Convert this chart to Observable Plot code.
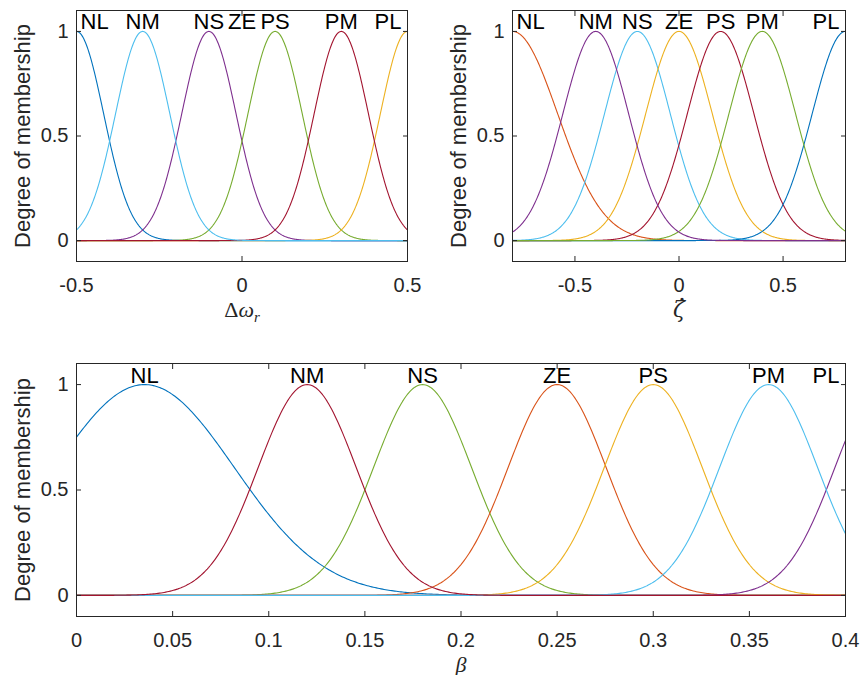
<!DOCTYPE html>
<html>
<head>
<meta charset="utf-8">
<script src="https://cdn.jsdelivr.net/npm/d3@7"></script>
<script src="https://cdn.jsdelivr.net/npm/@observablehq/plot@0.6"></script>
<style>
  body { margin: 0; background: #fff; }
  #fig { position: relative; width: 861px; height: 675px; background: #fff; }
  #fig > svg { position: absolute; overflow: visible; }
</style>
</head>
<body>
<div id="fig"></div>
<script>
// ---------- Data (Gaussian membership functions) ----------
const mfNames = ["NL", "NM", "NS", "ZE", "PS", "PM", "PL"];
const drawOrder = ["NL", "NS", "ZE", "PS", "PL", "PM", "NM"];
const yTicks = [0, 0.5, 1];
const yTickLabels = ["0", "0.5", "1"];

// Panel 1: Δω_r
const dwDomain = [-0.5, 0.5];
const dwCenters = [-0.5, -0.3, -0.1, 0, 0.1, 0.3, 0.5];
const dwSigmas = [0.082, 0.082, 0.082, null, 0.082, 0.082, 0.082]; // ZE has no visible curve
const dwColors = ["#0072BD", "#4DBEEE", "#7E2F8E", "#D95319", "#77AC30", "#A2142F", "#EDB120"];
const dwTicks = [-0.5, 0, 0.5];
const dwTickLabels = ["-0.5", "0", "0.5"];

// Panel 2: ζ-dot
const zdDomain = [-0.8, 0.8];
const zdCenters = [-0.8, -0.4, -0.2, 0, 0.2, 0.4, 0.8];
const zdSigmas = [0.217, 0.158, 0.158, 0.16, 0.16, 0.16, 0.16];
const zdColors = ["#D95319", "#7E2F8E", "#4DBEEE", "#EDB120", "#A2142F", "#77AC30", "#0072BD"];
const zdTicks = [-0.5, 0, 0.5];
const zdTickLabels = ["-0.5", "0", "0.5"];

// Panel 3: β
const bDomain = [0, 0.4];
const bCenters = [0.0354, 0.12, 0.18, 0.25, 0.30, 0.36, 0.42];
const bSigmas = [0.0467, 0.0255, 0.0255, 0.0255, 0.0255, 0.0255, 0.0255];
const bColors = ["#0072BD", "#A2142F", "#77AC30", "#D95319", "#EDB120", "#4DBEEE", "#7E2F8E"];
const bTicks = [0, 0.05, 0.1, 0.15, 0.2, 0.25, 0.3, 0.35, 0.4];
const bTickLabels = ["0", "0.05", "0.1", "0.15", "0.2", "0.25", "0.3", "0.35", "0.4"];

// ---------- Drawing ----------
const AX = "#262626";
const SANS = "'Liberation Sans', Arial, Helvetica, sans-serif";
const SERIF = "'Liberation Serif', 'DejaVu Serif', serif";

function panel({centers, sigmas, colors, domain, xTicks, xTickLabels, xLabel, labelFont, width, height, mt, mr, mb, ml}) {
  const curves = [];
  const N = 500;
  drawOrder.forEach(n => {
    const i = mfNames.indexOf(n);
    if (sigmas[i] == null) return;
    for (let k = 0; k <= N; k++) {
      const x = domain[0] + (domain[1] - domain[0]) * k / N;
      curves.push({name: n, x, y: Math.exp(-((x - centers[i]) ** 2) / (2 * sigmas[i] ** 2))});
    }
  });
  const labels = mfNames.map((n, i) => {
    const cx = Math.max(domain[0], Math.min(domain[1], centers[i]));
    return {name: n, x: cx, anchor: cx <= domain[0] ? "start" : cx >= domain[1] ? "end" : "middle"};
  });
  const fmt = (ticks, labs) => d => labs[ticks.findIndex(t => Math.abs(t - d) < 1e-9)];
  return Plot.plot({
    width, height,
    marginTop: mt, marginRight: mr, marginBottom: mb, marginLeft: ml,
    style: {fontFamily: SANS, fontSize: "20px", color: AX, background: "transparent"},
    x: {domain, type: "linear"},
    y: {domain: [-0.1, 1.1]},
    color: {domain: mfNames, range: colors},
    marks: [
      Plot.line(curves, {x: "x", y: "y", z: "name", stroke: "name", strokeWidth: 1.1}),
      Plot.frame({stroke: AX, strokeWidth: 1}),
      Plot.axisX({anchor: "bottom", ticks: xTicks, tickSize: 0, tickPadding: 16, tickFormat: fmt(xTicks, xTickLabels), fill: AX, fontSize: 20, label: null}),
      Plot.axisX({anchor: "bottom", ticks: xTicks, tickSize: -5, fill: "none", stroke: AX, label: null}),
      Plot.axisX({anchor: "top", ticks: xTicks, tickSize: -5, fill: "none", stroke: AX, label: null}),
      Plot.axisY({anchor: "left", ticks: yTicks, tickSize: 0, tickPadding: 8, tickFormat: fmt(yTicks, yTickLabels), fill: AX, fontSize: 20, label: null}),
      Plot.axisY({anchor: "left", ticks: yTicks, tickSize: -5, fill: "none", stroke: AX, label: null}),
      Plot.axisY({anchor: "right", ticks: yTicks, tickSize: -5, fill: "none", stroke: AX, label: null}),
      Plot.text(labels.filter(d => d.anchor === "start"), {x: "x", y: 1, text: "name", textAnchor: "start", lineAnchor: "bottom", dx: 4, dy: -2, fontSize: 22, fill: "black"}),
      Plot.text(labels.filter(d => d.anchor === "middle"), {x: "x", y: 1, text: "name", textAnchor: "middle", lineAnchor: "bottom", dy: -2, fontSize: 22, fill: "black"}),
      Plot.text(labels.filter(d => d.anchor === "end"), {x: "x", y: 1, text: "name", textAnchor: "end", lineAnchor: "bottom", dx: -6, dy: -2, fontSize: 22, fill: "black"}),
      Plot.text(["Degree of membership"], {frameAnchor: "left", rotate: -90, dx: -47, lineAnchor: "bottom", textAnchor: "middle", fontSize: 22, fill: AX}),
      Plot.text([xLabel], {frameAnchor: "bottom", dy: 55, lineAnchor: "bottom", textAnchor: "middle", fontSize: 22, fill: AX, fontFamily: labelFont || SERIF})
    ]
  });
}

function fixLabel(svg, key, html) {
  svg.querySelectorAll("text").forEach(t => {
    if (t.textContent === key) t.innerHTML = typeof html === "function" ? html(t) : html;
  });
}

const fig = document.getElementById("fig");

const p1 = panel({centers: dwCenters, sigmas: dwSigmas, colors: dwColors, domain: dwDomain,
  xTicks: dwTicks, xTickLabels: dwTickLabels, xLabel: "Δω_r",
  width: 430, height: 335, mt: 10, mr: 23, mb: 74, ml: 76});
fixLabel(p1, "Δω_r", '<tspan font-style="normal">Δ</tspan><tspan font-style="italic">ω</tspan><tspan font-style="italic" font-size="15" dy="5">r</tspan>');
p1.style.left = "0px"; p1.style.top = "0px";
fig.appendChild(p1);

const p2 = panel({centers: zdCenters, sigmas: zdSigmas, colors: zdColors, domain: zdDomain,
  xTicks: zdTicks, xTickLabels: zdTickLabels, xLabel: "ζ̇", labelFont: "'DejaVu Serif', serif",
  width: 431, height: 335, mt: 10, mr: 16, mb: 74, ml: 82});
fixLabel(p2, "ζ̇", t => {
  const X = +(t.getAttribute("x") || 0);
  return `<tspan x="${X}" font-style="italic">ζ</tspan><tspan x="${X + 3}" dy="-1" font-size="22" font-weight="bold">˙</tspan>`;
});
p2.style.left = "430px"; p2.style.top = "0px";
fig.appendChild(p2);

const p3 = panel({centers: bCenters, sigmas: bSigmas, colors: bColors, domain: bDomain,
  xTicks: bTicks, xTickLabels: bTickLabels, xLabel: "β",
  width: 861, height: 335, mt: 23, mr: 16, mb: 59, ml: 76});
fixLabel(p3, "β", '<tspan font-style="italic">β</tspan>');
p3.style.left = "0px"; p3.style.top = "340px";
fig.appendChild(p3);
</script>
</body>
</html>
